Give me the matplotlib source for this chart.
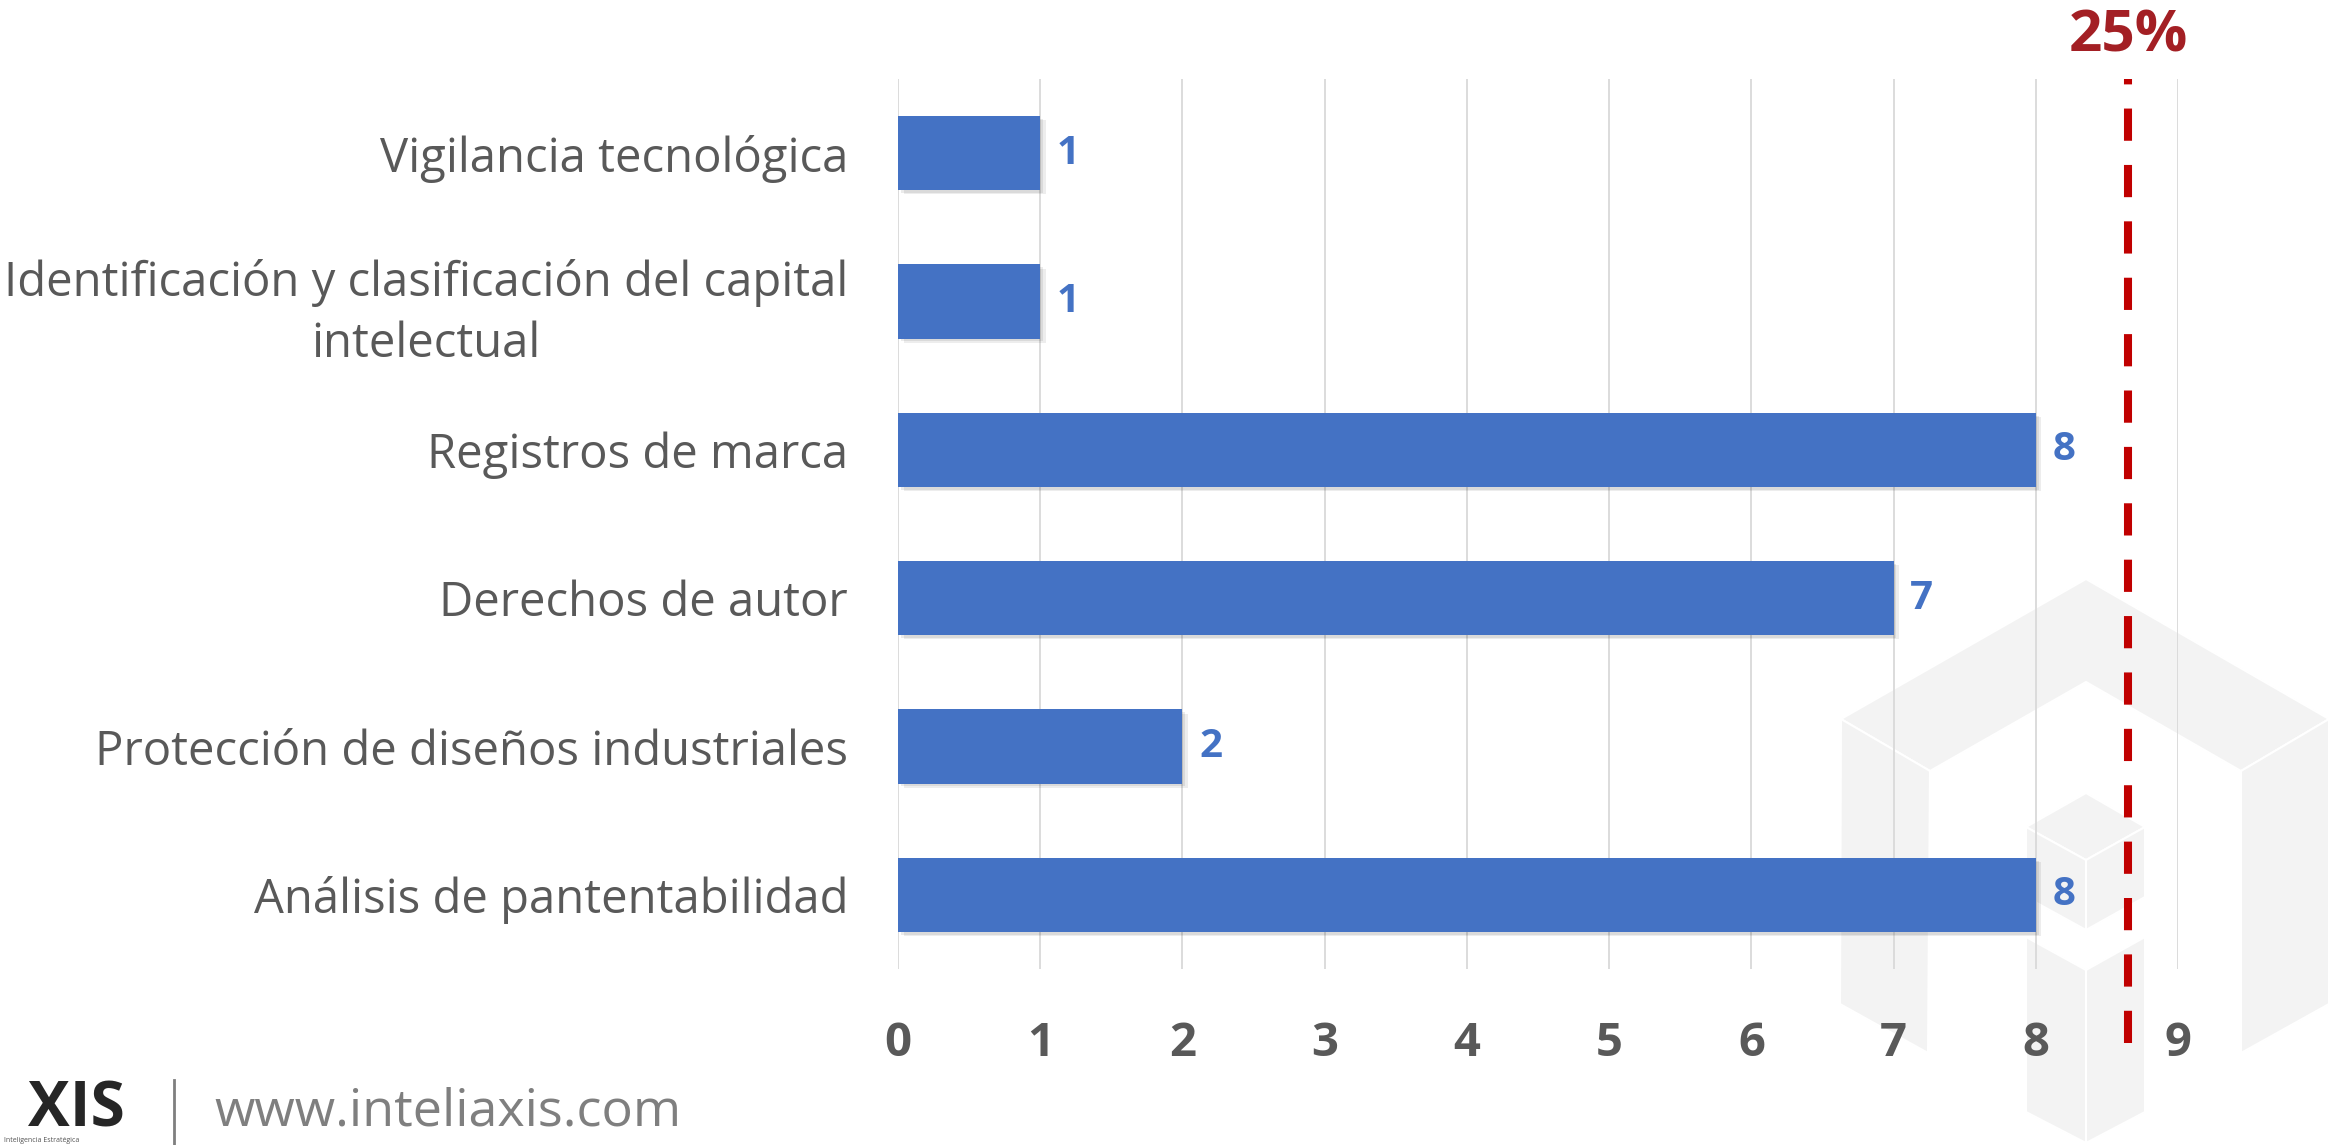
import matplotlib.pyplot as plt
import matplotlib.patheffects as pe
from matplotlib.patches import Polygon
from matplotlib.transforms import Affine2D

categorias = [
    "Vigilancia tecnológica",
    "Identificación y clasificación del capital\nintelectual",
    "Registros de marca",
    "Derechos de autor",
    "Protección de diseños industriales",
    "Análisis de pantentabilidad",
]
valores = [1, 1, 8, 7, 2, 8]
ticks_x = [0, 1, 2, 3, 4, 5, 6, 7, 8, 9]
umbral = 8.65
umbral_txt = "25%"

AZUL = "#4472C4"
GRIS = "#595959"
ROJO = "#C00000"

W, H = 2335, 1145
fig = plt.figure(figsize=(W / 100, H / 100), dpi=100)
plt.rcParams['font.family'] = ['Open Sans', 'DejaVu Sans']

# pixel -> figure fraction (origin top-left)
px = Affine2D().scale(1 / W, -1 / H).translate(0, 1) + fig.transFigure

# watermark (logo) in light gray, behind everything
marca = [
    [(1841, 719), (2086, 579), (2329, 719), (2241, 771), (2086, 682), (1930, 771)],
    [(1841, 719), (1930, 771), (1928, 1053), (1840, 1004)],
    [(2241, 771), (2329, 719), (2329, 1004), (2241, 1053)],
    [(2086, 793), (2145, 827), (2086, 860), (2026, 827)],
    [(2026, 827), (2086, 860), (2086, 930), (2026, 897)],
    [(2086, 860), (2145, 827), (2145, 897), (2086, 930)],
    [(2026, 937), (2086, 970), (2086, 1143), (2026, 1112)],
    [(2086, 970), (2145, 937), (2145, 1112), (2086, 1143)],
]
for poly in marca:
    fig.patches.append(Polygon(poly, closed=True, transform=px, facecolor="#F3F3F3",
                               edgecolor="white", linewidth=1.5, zorder=-5))

ax = fig.add_axes([898 / W, 1 - 969 / H, (2178 - 898) / W, (969 - 79) / H])
ax.patch.set_alpha(0)

y = list(range(len(categorias)))
bars = ax.barh(y, valores, height=0.5, color=AZUL, zorder=3)
for b in bars:
    b.set_path_effects([pe.SimplePatchShadow(offset=(4, -3), shadow_rgbFace="#000000", alpha=0.07),
                        pe.SimplePatchShadow(offset=(2, -2), shadow_rgbFace="#000000", alpha=0.08),
                        pe.Normal()])

for yi, v in zip(y, valores):
    ax.annotate(str(v), (v, yi), xytext=(12, 0), textcoords="offset points",
                ha="left", va="center", fontsize=29, fontweight="bold", color=AZUL, zorder=4)

ax.set_xlim(0, 9)
ax.set_ylim(len(categorias) - 0.5, -0.5)
ax.set_xticks(ticks_x)
ax.set_xticklabels([str(t) for t in ticks_x], fontsize=34, fontweight="bold", color=GRIS)
ax.set_yticks(y)
ax.set_yticklabels(categorias, fontsize=34, color=GRIS, multialignment="center",
                   linespacing=1.35)
ax.tick_params(axis="x", length=0, pad=37)
ax.tick_params(axis="y", length=0, pad=36)
ax.grid(axis="x", color="#D9D9D9", linewidth=1.3, zorder=0)
for s in ax.spines.values():
    s.set_visible(False)

# threshold line, drawn bottom-up so the full dash sits at the bottom
ax.plot([umbral, umbral], [-0.083, 1.0], transform=ax.get_xaxis_transform(), clip_on=False,
        color=ROJO, linewidth=5.8, dashes=(4.0, 3.0), solid_capstyle="butt",
        dash_capstyle="butt", zorder=5)
ax.text(umbral, 1 + 42 / 890, umbral_txt, transform=ax.get_xaxis_transform(),
        ha="center", va="center", fontsize=42, fontweight="bold", color="#A31F24")

# footer logo
fig.text(28 / W, 1 - 1110 / H, "XIS", fontsize=45, fontweight="bold", color="#262626",
         va="center", ha="left")
fig.text(4 / W, 1 - 1141 / H, "Inteligencia Estratégica", fontsize=5, color="#555555",
         va="center", ha="left")
fig.lines.append(plt.Line2D([174 / W, 174 / W], [0, 1 - 1080 / H], transform=fig.transFigure,
                            color="#7F7F7F", linewidth=2))
fig.text(214 / W, 1 - 1112 / H, "www.inteliaxis.com", fontsize=37.5, color="#7F7F7F",
         va="center", ha="left")

fig.savefig("out.png", dpi=100, facecolor="white")
